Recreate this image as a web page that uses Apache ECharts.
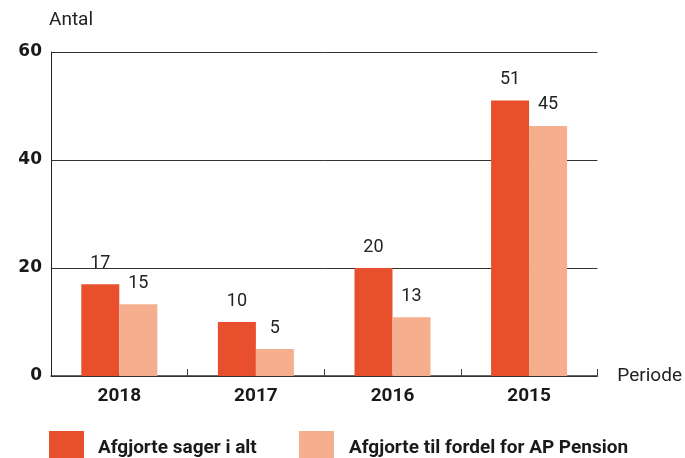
<!DOCTYPE html>
<html>
<head>
<meta charset="utf-8">
<script src="https://cdn.jsdelivr.net/npm/echarts@6/dist/echarts.min.js"></script>
<style>html,body{margin:0;padding:0;background:#fff}#c{width:685px;height:458px}</style>
</head>
<body>
<div id="c"></div>
<script>
const categories = ['2018', '2017', '2016', '2015'];
const seriesNames = ['Afgjorte sager i alt', 'Afgjorte til fordel for AP Pension'];
const totalValues = [17, 10, 20, 51];
const favourValues = [13.3, 5, 10.9, 46.3];
const favourLabels = ['15', '5', '13', '45'];
const yTicks = [0, 20, 40, 60];

const font = 'Roboto';
const chart = echarts.init(document.getElementById('c'), null, {renderer: 'canvas'});
const labelStyle = {show: true, position: 'top', distance: 12, fontFamily: font, fontSize: 18, color: '#222'};
const legendText = {fontFamily: font, fontSize: 19, fontWeight: 'bold', color: '#1a1a1a'};
chart.setOption({
  animation: false,
  grid: {left: 51, right: 83, top: 52, bottom: 82, containLabel: false},
  legend: [
    {data: [seriesNames[0]], left: 49, top: 431, padding: 0, itemWidth: 35, itemHeight: 35, icon: 'rect',
     textStyle: Object.assign({}, legendText, {padding: [0, 0, 0, 9]})},
    {data: [seriesNames[1]], left: 299, top: 431, padding: 0, itemWidth: 35, itemHeight: 35, icon: 'rect',
     textStyle: Object.assign({}, legendText, {padding: [0, 0, 0, 10]})}
  ],
  xAxis: {
    type: 'category', data: categories, boundaryGap: true,
    name: 'Periode', nameLocation: 'end', nameGap: 20,
    nameTextStyle: {fontFamily: font, fontSize: 19, color: '#222', verticalAlign: 'middle', padding: [0, 0, 12, 0]},
    axisLine: {lineStyle: {color: '#333', width: 1.5}},
    axisTick: {show: true, inside: true, length: 7, lineStyle: {color: '#444'},
      interval: function (i) { return i > 0 && i < categories.length; }},
    axisLabel: {fontFamily: font, fontSize: 19, fontWeight: 'bold', color: '#1a1a1a', margin: 11}
  },
  yAxis: {
    type: 'value', min: yTicks[0], max: yTicks[yTicks.length - 1], interval: 20,
    name: 'Antal', nameLocation: 'end', nameGap: 22,
    nameTextStyle: {fontFamily: font, fontSize: 19, color: '#222', align: 'left', padding: [0, 0, 0, -2]},
    axisLine: {show: true, lineStyle: {color: '#222', width: 1}},
    axisTick: {show: false},
    splitLine: {show: true, lineStyle: {color: '#333', width: 1}},
    axisLabel: {fontFamily: 'DejaVu Sans', fontSize: 17, fontWeight: 'bold', color: '#1a1a1a', margin: 9}
  },
  series: [
    {name: seriesNames[0], type: 'bar', data: totalValues, barWidth: 38, barGap: '0%',
     itemStyle: {color: '#E8502D'}, label: labelStyle},
    {name: seriesNames[1], type: 'bar', data: favourValues, barWidth: 38, barGap: '0%',
     itemStyle: {color: '#F5AF8E'},
     label: Object.assign({}, labelStyle, {formatter: function (p) { return favourLabels[p.dataIndex]; }})}
  ]
});
</script>
</body>
</html>
